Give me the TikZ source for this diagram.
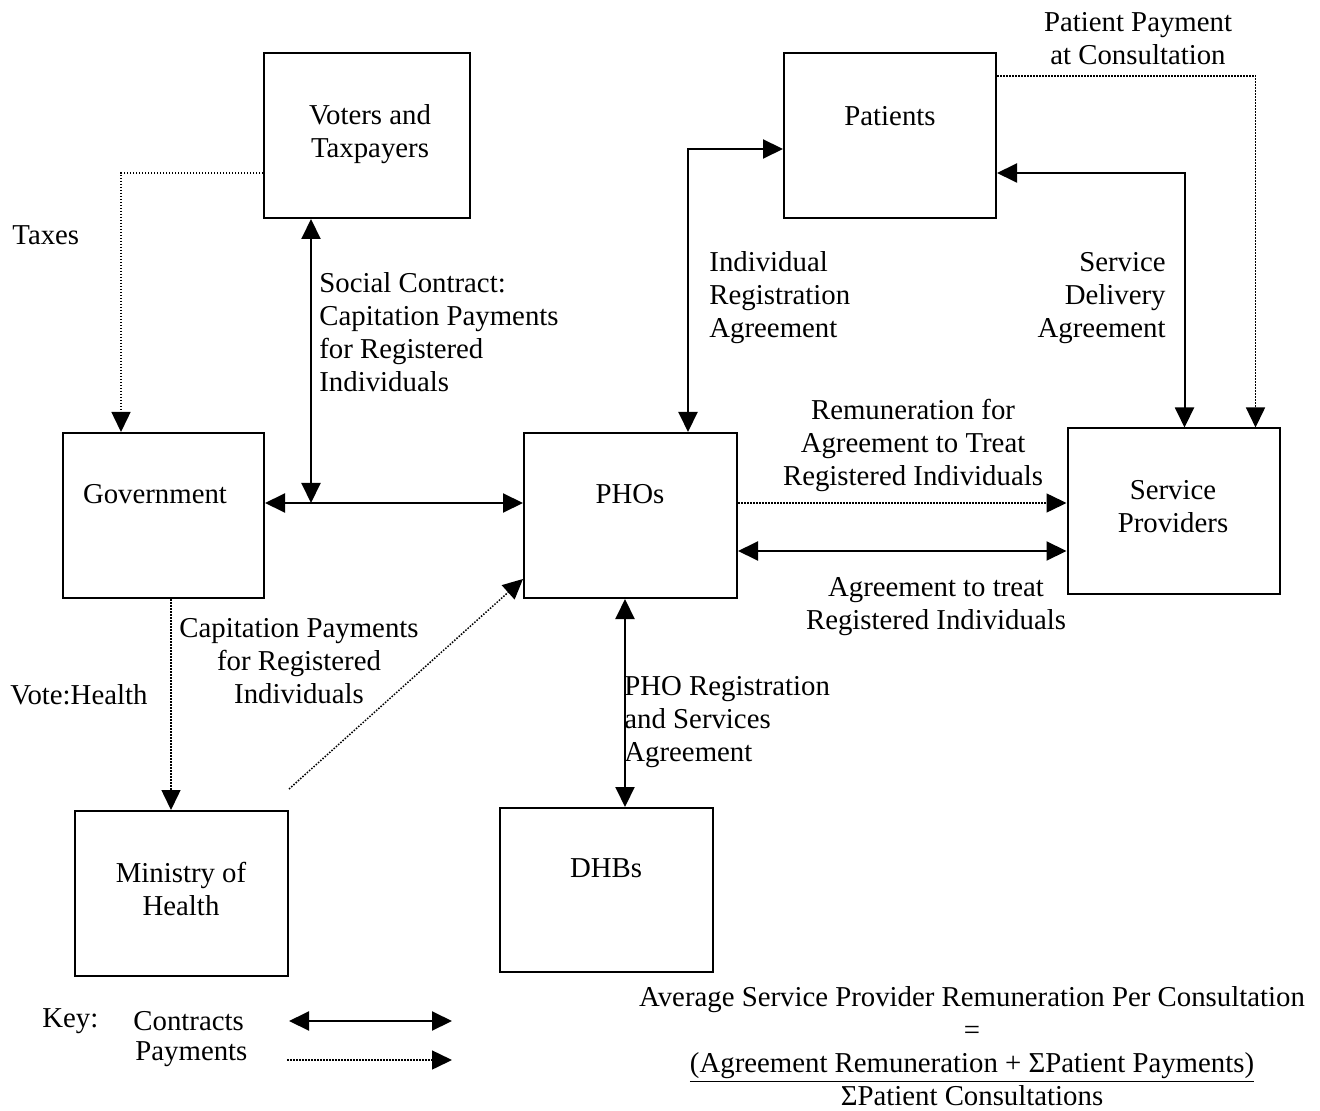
\documentclass[tikz,border=0pt]{standalone}
\usepackage{fontspec}
\setmainfont{Liberation Serif}
\usetikzlibrary{arrows.meta,calc}
\begin{document}
\begin{tikzpicture}[x=0.5pt,y=-0.5pt,
  every node/.style={font=\fontsize{14.4}{16.5}\selectfont, inner sep=0pt},
  box/.style={draw, line width=1pt, minimum width=#1, minimum height=82.5pt},
  con/.style={line width=1pt, {Triangle[length=10pt,width=9.5pt]}-{Triangle[length=10pt,width=9.5pt]}},
  pay/.style={line width=0.75pt, dash pattern=on 0.75pt off 0.75pt, -{Triangle[length=10pt,width=9.5pt]}},
  txt/.style={align=center}
]
\path[use as bounding box] (0,0) rectangle (1320,1111);

% boxes
\node[box=103pt] (vot) at (367,135.5) {};
\node[box=106pt] (pat) at (890,135.5) {};
\node[box=100.5pt] (gov) at (163.5,515.5) {};
\node[box=106.5pt] (pho) at (630.5,515.5) {};
\node[box=106pt] (sp) at (1173.5,511) {};
\node[box=106.5pt] (min) at (181.5,893.5) {};
\node[box=106.5pt, minimum height=82pt] (dhb) at (606.5,890) {};

% box texts
\node[txt] (tvot) at (370,134) {Voters and\\Taxpayers};
\node[txt] (tpat) at (890,116) {Patients};
\node[txt] (tgov) at (155,494) {Government};
\node[txt] (tpho) at (630,494) {PHOs};
\node[txt] (tsp) at (1173,507) {Service\\Providers};
\node[txt] (tmin) at (181,889) {Ministry of\\Health};
\node[txt] (tdhb) at (606,868) {DHBs};

% coordinates
\coordinate (gp) at ([yshift=6.25pt]gov.east);
\coordinate (sc) at ([xshift=24pt]vot.south west);
\coordinate (tx1) at ([yshift=23pt]vot.south west);
\coordinate (tx2) at ([xshift=29.5pt]gov.north west);
\coordinate (g1) at ([xshift=54.5pt]gov.south west);
\coordinate (m1) at ([yshift=10.5pt]min.north east);
\coordinate (m2) at ([yshift=10pt]pho.south west);
\coordinate (p1) at ([xshift=82.5pt]pho.north west);
\coordinate (p2) at ([yshift=35pt]pat.south west);
\coordinate (s1) at ([yshift=23pt]pat.south east);
\coordinate (s2) at ([xshift=59pt]sp.north west);
\coordinate (pp1) at ([yshift=-12pt]pat.north east);
\coordinate (pp2) at ([xshift=94.5pt]sp.north west);
\coordinate (r1) at ([yshift=6.25pt]pho.east);
\coordinate (r2) at ([yshift=-17.75pt]pho.east);
\coordinate (d1) at ([xshift=51pt]pho.south west);

% connectors
\draw[pay] (tx1) -| (tx2);
\draw[con] (sc) -- (sc |- gp);
\draw[con] (gp) -- (gp -| pho.west);
\draw[pay] (g1) -- (g1 |- min.north);
\draw[pay] (m1) -- (m2);
\draw[con] (p1) |- (p2);
\draw[con] (s1) -| (s2);
\draw[pay] (pp1) -| (pp2);
\draw[pay] (r1) -- (r1 -| sp.west);
\draw[con] (r2) -- (r2 -| sp.west);
\draw[con] (d1) -- (d1 |- dhb.north);

% labels
\node[anchor=west] (ltax) at (12,235) {Taxes};
\node[anchor=west, align=left] (lsc) at (319,332) {Social Contract:\\Capitation Payments\\for Registered\\Individuals};
\node[anchor=west, align=left] (lir) at (709,298) {Individual\\Registration\\Agreement};
\node[anchor=east, align=right] (lsd) at (1166,298) {Service\\Delivery\\Agreement};
\node[txt] (lpp) at (1138,39) {Patient Payment\\at Consultation};
\node[txt] (lrem) at (913,445) {Remuneration for\\Agreement to Treat\\Registered Individuals};
\node[txt] (lagr) at (936,607) {Agreement to treat\\Registered Individuals};
\node[txt] (lcap) at (299,661) {Capitation Payments\\for Registered\\Individuals};
\node[anchor=west] (lvh) at (10,695) {Vote:Health};
\node[anchor=west, align=left] (lpho) at (624,722) {PHO Registration\\and Services\\Agreement};

% key
\node[anchor=west] (kkey) at (42,1021) {Key:};
\node[anchor=west] (kcon) at (133,1021) {Contracts};
\node[anchor=west] (kpay) at (135,1054) {Payments};
\coordinate (k1) at (289,1021);
\coordinate (k2) at (452,1021);
\coordinate (k3) at (287,1060);
\coordinate (k4) at (452,1060);
\draw[con] (k1) -- (k2);
\draw[pay] (k3) -- (k4);

% formula
\node[txt] (form) at (972,1046.5) {Average Service Provider Remuneration Per Consultation\\=\\\underline{(Agreement Remuneration + ΣPatient Payments)}\\ΣPatient Consultations};
\end{tikzpicture}
\end{document}
